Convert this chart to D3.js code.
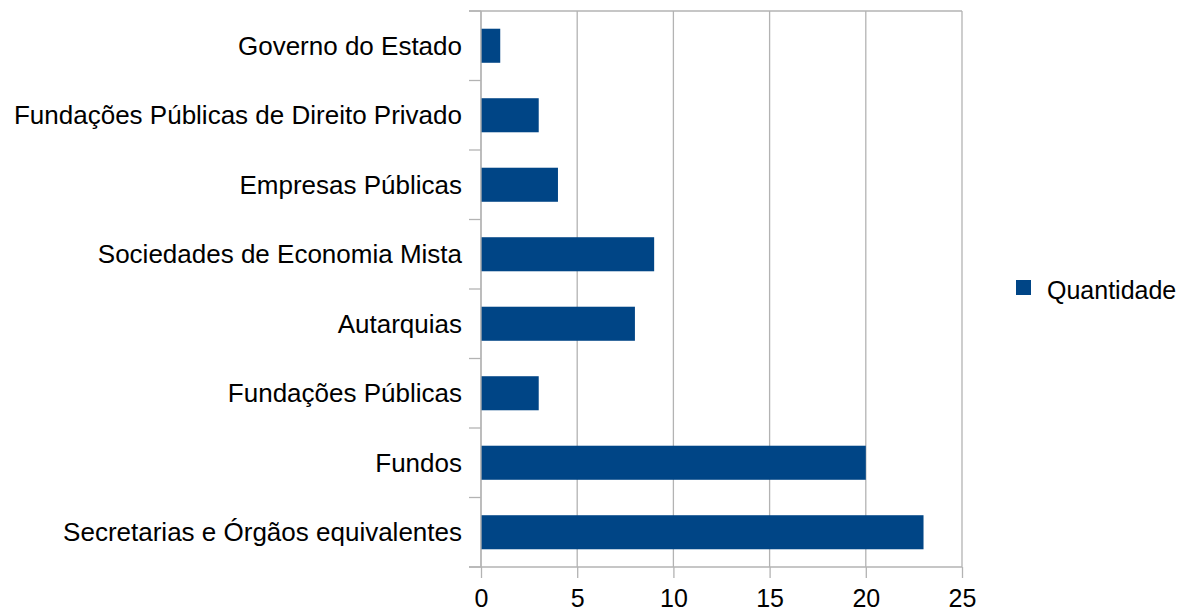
<!DOCTYPE html>
<html>
<head>
<meta charset="utf-8">
<script src="https://cdn.jsdelivr.net/npm/d3@7"></script>
<style>
  body { margin: 0; background: #fff; }
  svg text { font-family: "Liberation Sans", Arial, sans-serif; fill: #000; }
</style>
</head>
<body>
<div id="chart"></div>
<script>
// categories, top to bottom
const categories = [
  "Governo do Estado",
  "Fundações Públicas de Direito Privado",
  "Empresas Públicas",
  "Sociedades de Economia Mista",
  "Autarquias",
  "Fundações Públicas",
  "Fundos",
  "Secretarias e Órgãos equivalentes"
];
const quantidade = [1, 3, 4, 9, 8, 3, 20, 23];
const xTicks = [0, 5, 10, 15, 20, 25];
const seriesName = "Quantidade";

const width = 1179, height = 611;
const margin = {top: 11, right: 217, bottom: 44, left: 481};
const fontSize = 25;
const labelSize = 26;
const barColor = "#004586";
const gridColor = "#b3b3b3";

const svg = d3.select("#chart").append("svg")
    .attr("width", width)
    .attr("height", height);

const x = d3.scaleLinear()
    .domain([0, 25])
    .range([margin.left, width - margin.right]);

const y = d3.scaleBand()
    .domain(categories)
    .range([margin.top, height - margin.bottom])
    .paddingInner(0.51)
    .paddingOuter(0.255);

const yBounds = d3.scaleLinear()
    .domain([0, categories.length])
    .range([margin.top, height - margin.bottom]);

// vertical grid lines
svg.append("g")
    .selectAll("line")
    .data(xTicks)
    .join("line")
    .attr("x1", d => x(d)).attr("x2", d => x(d))
    .attr("y1", margin.top).attr("y2", height - margin.bottom)
    .attr("stroke", gridColor)
    .attr("stroke-width", 1.3);

// top border line
svg.append("line")
    .attr("x1", margin.left - 12).attr("x2", x(25))
    .attr("y1", margin.top).attr("y2", margin.top)
    .attr("stroke", gridColor)
    .attr("stroke-width", 1.3);

// bars
svg.append("g")
    .selectAll("rect")
    .data(categories)
    .join("rect")
    .attr("x", x(0))
    .attr("y", d => y(d))
    .attr("width", (d, i) => x(quantidade[i]) - x(0))
    .attr("height", y.bandwidth())
    .attr("fill", barColor);

// x axis
const xAxis = svg.append("g")
    .attr("transform", "translate(0," + (height - margin.bottom) + ")")
    .call(d3.axisBottom(x).tickValues(xTicks).tickSize(11).tickPadding(11).tickSizeOuter(0));
xAxis.select(".domain").attr("stroke", gridColor).attr("stroke-width", 1.3)
    .attr("d", "M" + (margin.left - 12) + ",0H" + x(25));
xAxis.selectAll(".tick line").attr("stroke", gridColor).attr("stroke-width", 1.3);
xAxis.selectAll("text")
    .attr("font-size", fontSize)
    .attr("font-family", "Liberation Sans, Arial, sans-serif")
    .attr("fill", "#000");

// y axis line and category boundary ticks
svg.append("line")
    .attr("x1", margin.left).attr("x2", margin.left)
    .attr("y1", margin.top).attr("y2", height - margin.bottom)
    .attr("stroke", gridColor)
    .attr("stroke-width", 1.3);
svg.append("g")
    .selectAll("line")
    .data(d3.range(categories.length + 1))
    .join("line")
    .attr("x1", margin.left - 12).attr("x2", margin.left)
    .attr("y1", d => yBounds(d)).attr("y2", d => yBounds(d))
    .attr("stroke", gridColor)
    .attr("stroke-width", 1.3);

// category labels
svg.append("g")
    .selectAll("text")
    .data(categories)
    .join("text")
    .attr("x", margin.left - 19)
    .attr("y", d => y(d) + y.bandwidth() / 2)
    .attr("dy", "0.35em")
    .attr("text-anchor", "end")
    .attr("font-size", labelSize)
    .text(d => d);

// legend
const legend = svg.append("g").attr("transform", "translate(1016,280)");
legend.append("rect")
    .attr("width", 15).attr("height", 15)
    .attr("fill", barColor);
legend.append("text")
    .attr("x", 31).attr("y", 19)
    .attr("font-size", fontSize)
    .text(seriesName);
</script>
</body>
</html>
